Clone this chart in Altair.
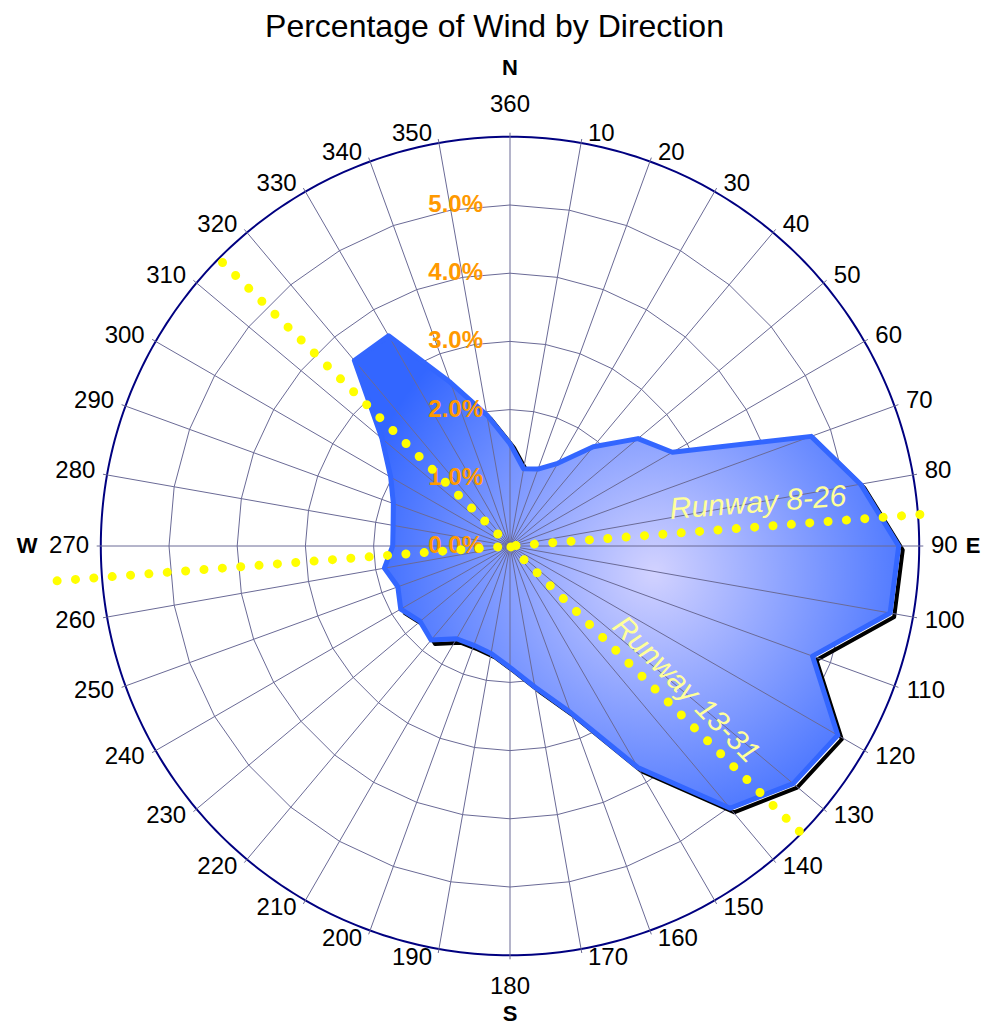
import altair as alt
import pandas as pd

# ---------------- data ----------------
directions = [10, 20, 30, 40, 50, 60, 70, 80, 90, 100, 110, 120,
              130, 140, 150, 160, 170, 180, 190, 200, 210, 220, 230, 240,
              250, 260, 270, 280, 290, 300, 310, 320, 330, 340, 350, 360]
wind_pct = [1.15, 1.20, 1.40, 1.90, 2.45, 2.75, 4.70, 5.22, 5.70, 5.66,
            4.72, 5.55, 5.42, 5.02, 3.75, 2.60, 2.10, 1.78, 1.60, 1.55,
            1.57, 1.80, 1.72, 1.85, 1.75, 1.87, 1.72, 1.74, 1.82, 2.02,
            2.45, 3.55, 3.56, 2.55, 1.95, 1.50]
direction_labels = [str(d) for d in directions]
ring_values = [1, 2, 3, 4, 5]
outer_value = [6]
pct_tick_values = [0, 1, 2, 3, 4, 5]
pct_tick_labels = ["0.0%", "1.0%", "2.0%", "3.0%", "4.0%", "5.0%"]
compass_letters = ["N", "E", "S", "W"]
compass_dirs = [0, 90, 180, 270]
runway_names = ["8-26", "13-31"]
runway_headings = [85.6, 134.6]
runway_start = [-6.66, -5.92]
runway_end = [6.04, 5.97]
runway_labels = ["Runway 8-26", "Runway 13-31"]
runway_label_dirs = [80.2, 129.3]
runway_label_r = [3.69, 3.33]
runway_label_angles = [355.6, 45.0]
title_text = "Percentage of Wind by Direction"

# ---------------- layout / style ----------------
TOP = 44             # room for the title above the plot area
W, H = 973, 1019 - TOP
PX = 68.2            # pixels per 1 %
CX, CY = 502, 538 - TOP   # centre of the rose inside the plot area
FONT = "Liberation Sans"
GRID = "#6A6A96"

x_scale = alt.Scale(domain=[-CX / PX, (W - CX) / PX], nice=False, zero=False)
y_scale = alt.Scale(domain=[-(H - CY) / PX, CY / PX], nice=False, zero=False)


def polar(r, d, px="px", py="py"):
    return {px: f"datum.{r} * sin(datum.{d} * PI / 180)",
            py: f"datum.{r} * cos(datum.{d} * PI / 180)"}


def XY(px="px", py="py"):
    return dict(x=alt.X(f"{px}:Q", scale=x_scale, axis=None),
                y=alt.Y(f"{py}:Q", scale=y_scale, axis=None))


# ---------------- tables ----------------
wind = pd.DataFrame({"deg": directions, "pct": wind_pct})
rings = pd.DataFrame([(r, d) for r in ring_values for d in directions],
                     columns=["ring", "deg"])
spokes = pd.DataFrame({"deg": directions})
dir_lab = pd.DataFrame({"deg": directions, "label": direction_labels})
pct_lab = pd.DataFrame({"v": pct_tick_values, "label": pct_tick_labels})
compass = pd.DataFrame({"deg": compass_dirs, "label": compass_letters})
runway_pts = pd.DataFrame(
    [(n, h, s, 0) for n, h, s in zip(runway_names, runway_headings, runway_start)]
    + [(n, h, e, 1) for n, h, e in zip(runway_names, runway_headings, runway_end)],
    columns=["runway", "heading", "r", "k"])
runway_txt = pd.DataFrame({"label": runway_labels, "deg": runway_label_dirs,
                           "r": runway_label_r, "ang": runway_label_angles})

# ---------------- layers ----------------
ring_layer = alt.Chart(rings).transform_calculate(**polar("ring", "deg")).mark_line(
    interpolate="linear-closed", color=GRID, strokeWidth=1
).encode(**XY(), detail="ring:N", order="deg:Q")

outer_layer = alt.Chart(alt.sequence(0, 360, 1, as_="deg")).transform_calculate(
    r=str(outer_value[0])
).transform_calculate(**polar("r", "deg")).mark_line(
    interpolate="linear-closed", color="#000080", strokeWidth=2
).encode(**XY(), order="deg:Q")

spoke_layer = alt.Chart(spokes).transform_calculate(
    r0="0", r1=str(outer_value[0] + 0.06)
).transform_calculate(**polar("r0", "deg", "x0", "y0"), **polar("r1", "deg", "x1", "y1")).mark_rule(
    color=GRID, strokeWidth=1
).encode(**XY("x0", "y0"), x2="x1:Q", y2="y1:Q")

wind_base = alt.Chart(wind).transform_calculate(**polar("pct", "deg"))

shadow_layer = wind_base.mark_line(
    interpolate="linear-closed", color="black", strokeWidth=4,
    xOffset=4, yOffset=4, strokeJoin="round"
).encode(**XY(), order="deg:Q")

gradient = alt.RadialGradient(
    gradient="radial",
    stops=[alt.GradientStop(color="#D2D2FF", offset=0),
           alt.GradientStop(color="#3366FF", offset=1)],
    x1=0.55, y1=0.5, x2=0.55, y2=0.5, r1=0, r2=0.56)

fill_layer = wind_base.mark_line(
    interpolate="linear-closed", fill=gradient, strokeWidth=0
).encode(**XY(), order="deg:Q")

stroke_layer = wind_base.mark_line(
    interpolate="linear-closed", color="#3366FF", strokeWidth=5, strokeJoin="round"
).encode(**XY(), order="deg:Q")

pct_layer = alt.Chart(pct_lab).transform_calculate(
    px="0", py="datum.v"
).mark_text(
    align="right", baseline="middle", dx=-27, fontSize=24, fontWeight="bold",
    color="#FF9900", font=FONT
).encode(**XY(), text="label:N")

runway_layer = alt.Chart(runway_pts).transform_calculate(**polar("r", "heading")).mark_line(
    color="#FFFF00", strokeWidth=9, strokeCap="round", strokeDash=[0.01, 18.4]
).encode(**XY(), detail="runway:N", order="k:Q")

# direction labels: text box placed just outside the ring, pushed sideways by its half width
dir_layer = alt.Chart(dir_lab).transform_calculate(
    s="sin(datum.deg * PI / 180)", c="cos(datum.deg * PI / 180)"
).transform_calculate(
    sx="abs(datum.s) < 1e-6 ? 0 : (datum.s > 0 ? 1 : -1)",
    sy="abs(datum.c) < 1e-6 ? 0 : (datum.c > 0 ? 1 : -1)",
    hw="0.5 * 13.3 * length(datum.label) + 6",
    ex="datum.deg % 180 == 0 ? 23 : 0",
).transform_calculate(
    px=f"(415 * datum.s + datum.sx * datum.hw) / {PX}",
    py=f"((415 + datum.ex) * datum.c + datum.sy * 3) / {PX}",
).mark_text(
    align="center", baseline="middle", fontSize=24, font=FONT, color="black"
).encode(**XY(), text="label:N")

compass_layer = alt.Chart(compass).transform_calculate(
    rr=f"(473 + 5 * cos(datum.deg * PI / 180) - 10 * sin(datum.deg * PI / 180)) / {PX}"
).transform_calculate(**polar("rr", "deg")).mark_text(
    align="center", baseline="middle", fontSize=22, fontWeight="bold", font=FONT, color="black"
).encode(**XY(), text="label:N")

runway_text_layer = alt.Chart(runway_txt).transform_calculate(**polar("r", "deg")).mark_text(
    align="center", baseline="middle", fontSize=30, fontStyle="italic", font=FONT, color="#FFFF99"
).encode(**XY(), text="label:N", angle=alt.Angle("ang:Q", scale=None))

chart = alt.layer(
    ring_layer, outer_layer, shadow_layer, fill_layer, spoke_layer, stroke_layer,
    pct_layer, runway_layer, runway_text_layer, dir_layer, compass_layer
).properties(
    width=W, height=H,
    title=alt.TitleParams(title_text, fontSize=32, font=FONT, fontWeight="normal",
                          anchor="middle", frame="group", offset=8, color="black"),
    autosize=alt.AutoSizeParams(type="none"),
    padding={"top": TOP, "left": 0, "right": 0, "bottom": 0},
).configure_view(stroke=None)

chart.save("out.html", embed_options={"renderer": "svg", "actions": False})
